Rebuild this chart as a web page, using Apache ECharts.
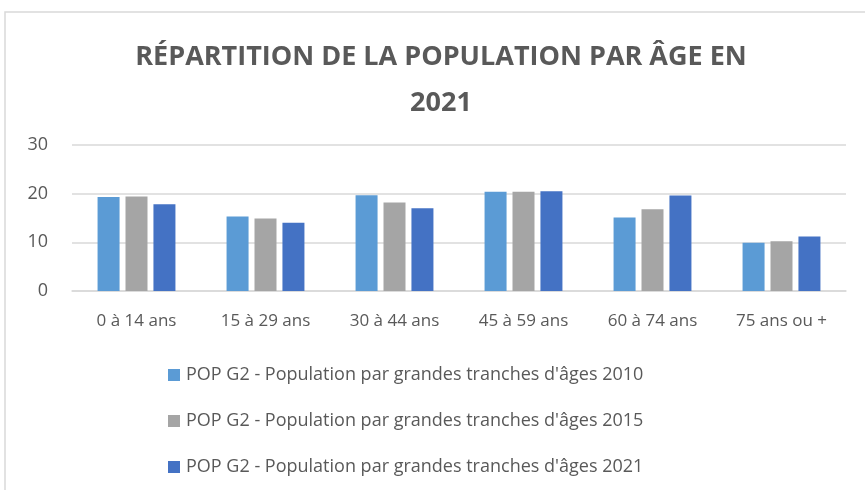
<!DOCTYPE html>
<html>
<head>
<meta charset="utf-8">
<script src="https://cdn.jsdelivr.net/npm/echarts@6/dist/echarts.min.js"></script>
<style>
  html, body { margin: 0; padding: 0; background: #fff; }
  #chart { width: 865px; height: 490px; }
</style>
</head>
<body>
<div id="chart"></div>
<script>
// Catégories d'âge
const categories = ['0 à 14 ans', '15 à 29 ans', '30 à 44 ans', '45 à 59 ans', '60 à 74 ans', '75 ans ou +'];

// Valeurs (%)
const pop2010 = [19.3, 15.3, 19.7, 20.4, 15.1, 9.9];
const pop2015 = [19.4, 14.9, 18.2, 20.4, 16.8, 10.2];
const pop2021 = [17.8, 14.0, 17.0, 20.5, 19.6, 11.2];

const seriesNames = [
  "POP G2 - Population par grandes tranches d'âges 2010",
  "POP G2 - Population par grandes tranches d'âges 2015",
  "POP G2 - Population par grandes tranches d'âges 2021"
];
const colors = ['#5B9BD5', '#A5A5A5', '#4472C4'];

const font = '"Open Sans", "Noto Sans", sans-serif';
const textColor = '#595959';

const makeSeries = (name, data, color) => ({
  name: name,
  type: 'bar',
  data: data,
  barWidth: 22,
  barGap: '27%',
  itemStyle: { color: color },
  emphasis: { disabled: true }
});

const option = {
  backgroundColor: '#fff',
  animation: false,
  color: colors,
  title: {
    text: 'RÉPARTITION DE LA POPULATION PAR ÂGE EN\n2021',
    left: 436,
    textAlign: 'center',
    top: 29,
    textStyle: {
      fontFamily: font,
      fontSize: 27,
      fontWeight: 'bold',
      color: textColor,
      lineHeight: 46
    }
  },
  graphic: [
    {
      type: 'rect',
      shape: { x: 5, y: 12, width: 900, height: 520 },
      style: { fill: 'none', stroke: '#d9d9d9', lineWidth: 1.5 },
      silent: true
    }
  ],
  grid: {
    left: 72,
    right: 19,
    top: 145,
    bottom: 199
  },
  legend: {
    orient: 'vertical',
    left: 163,
    top: 360,
    itemGap: 26,
    itemWidth: 12,
    itemHeight: 12,
    icon: 'rect',
    textStyle: {
      fontFamily: font,
      fontSize: 18,
      lineHeight: 20,
      color: textColor,
      padding: [0, 0, 0, 1]
    },
    data: seriesNames
  },
  xAxis: {
    type: 'category',
    data: categories,
    axisLine: { lineStyle: { color: '#d9d9d9', width: 1.5 } },
    axisTick: { show: false },
    axisLabel: {
      fontFamily: font,
      fontSize: 17,
      color: textColor,
      margin: 22
    }
  },
  yAxis: {
    type: 'value',
    min: 0,
    max: 30,
    interval: 10,
    axisLine: { show: false },
    axisTick: { show: false },
    axisLabel: {
      fontFamily: font,
      fontSize: 18,
      color: textColor,
      margin: 24
    },
    splitLine: { lineStyle: { color: '#d9d9d9', width: 1.5 } }
  },
  series: [
    makeSeries(seriesNames[0], pop2010, colors[0]),
    makeSeries(seriesNames[1], pop2015, colors[1]),
    makeSeries(seriesNames[2], pop2021, colors[2])
  ]
};

const chart = echarts.init(document.getElementById('chart'), null, { renderer: 'canvas' });
chart.setOption(option);
</script>
</body>
</html>
